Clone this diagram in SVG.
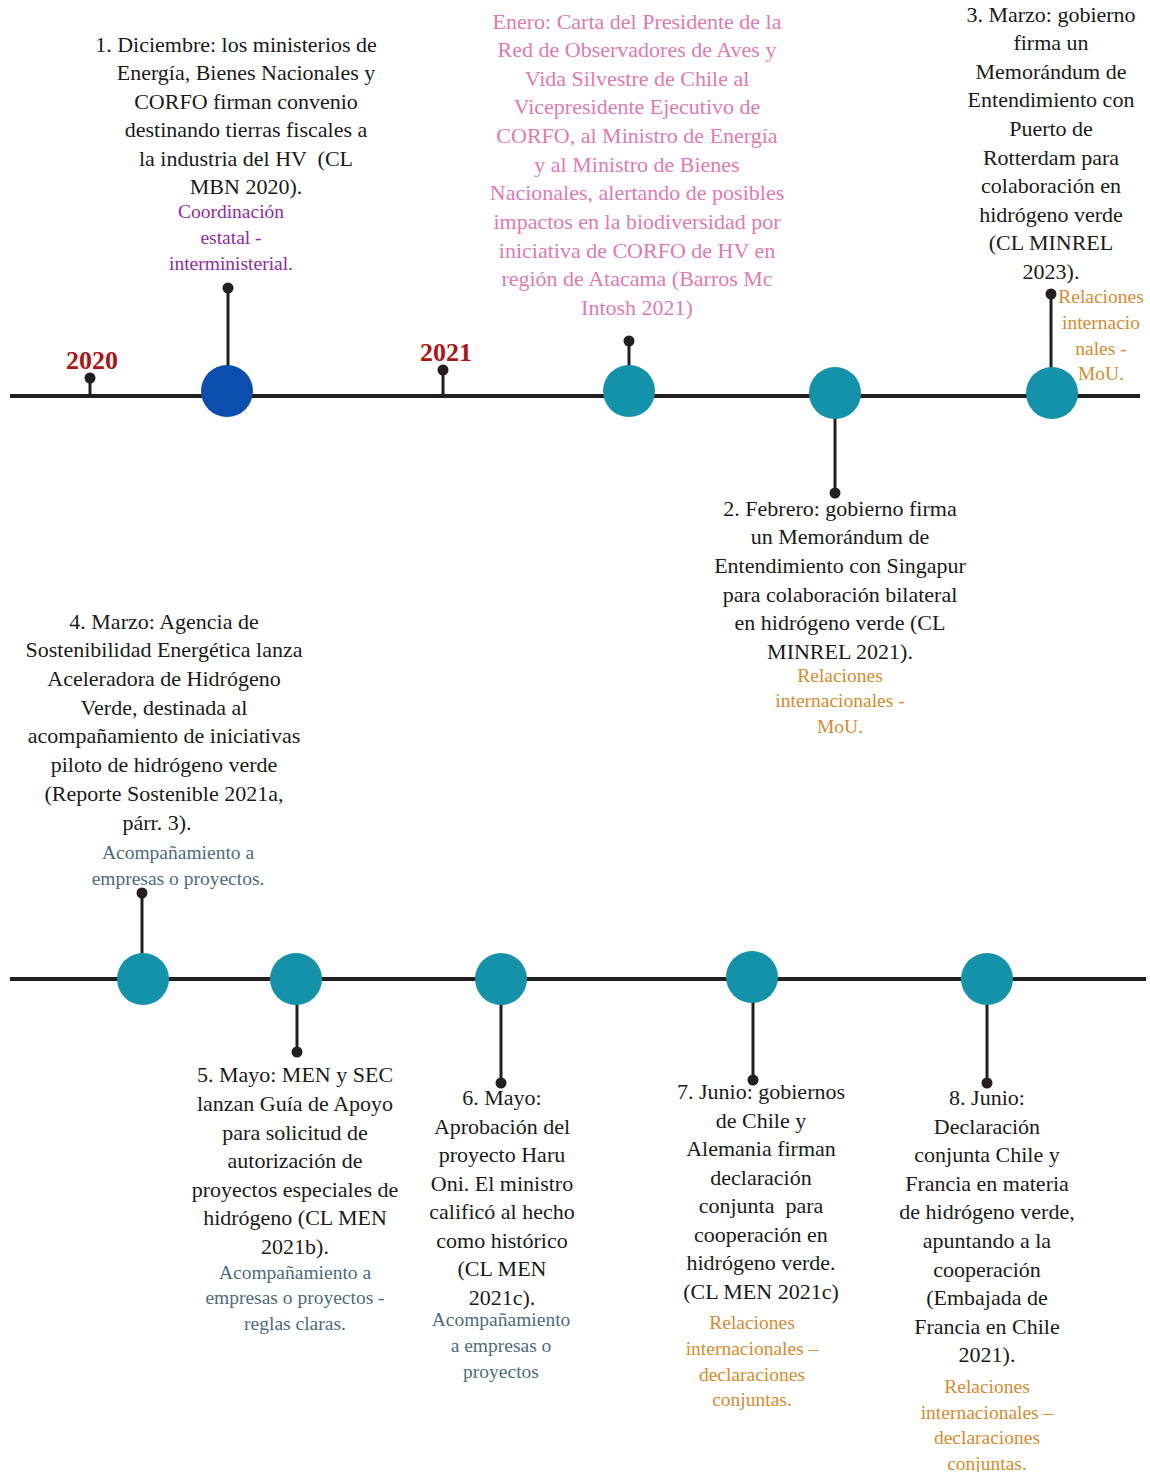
<svg xmlns="http://www.w3.org/2000/svg" width="1150" height="1472" viewBox="0 0 1150 1472">
<style>
text{font-family:"Liberation Serif",Tinos,"Times New Roman",Times,"DejaVu Serif",serif;text-anchor:middle;}
.t{font-size:22px;fill:#1a1a1a;}
.pk{font-size:22px;fill:#e07ab4;}
.pu{font-size:19.5px;fill:#8e2ba6;}
.or{font-size:19.5px;fill:#d68b2f;}
.sl{font-size:19.5px;fill:#4d6b7d;}
.yr{font-size:26px;font-weight:bold;fill:#ad1414;}
.axis{stroke:#231f20;stroke-width:4;fill:none;}
.stem{stroke:#231f20;stroke-width:3;fill:none;}
.dot{fill:#231f20;}
.teal{fill:#1492aa;}
.blue{fill:#0b4eae;}
</style>
<rect width="1150" height="1472" fill="#ffffff"/>

<g id="connectors">
  <line class="axis" x1="10" y1="396" x2="1140" y2="396"/>
  <line class="axis" x1="10" y1="979" x2="1146" y2="979"/>
  <line class="stem" x1="90" y1="378" x2="90" y2="396"/><circle class="dot" cx="90" cy="378" r="5.5"/>
  <line class="stem" x1="443" y1="370" x2="443" y2="396"/><circle class="dot" cx="443" cy="370" r="5.5"/>
  <line class="stem" x1="228" y1="288" x2="228" y2="370"/><circle class="dot" cx="228" cy="288" r="5.5"/>
  <line class="stem" x1="629" y1="341" x2="629" y2="370"/><circle class="dot" cx="629" cy="341" r="5.5"/>
  <line class="stem" x1="835" y1="415" x2="835" y2="493"/><circle class="dot" cx="835" cy="493" r="5.5"/>
  <line class="stem" x1="1051" y1="294" x2="1051" y2="372"/><circle class="dot" cx="1051" cy="294" r="5.5"/>
  <line class="stem" x1="142" y1="893" x2="142" y2="958"/><circle class="dot" cx="142" cy="893" r="5.5"/>
  <line class="stem" x1="297" y1="1000" x2="297" y2="1052"/><circle class="dot" cx="297" cy="1052" r="5.5"/>
  <line class="stem" x1="501" y1="1000" x2="501" y2="1083"/><circle class="dot" cx="501" cy="1083" r="5.5"/>
  <line class="stem" x1="753" y1="998" x2="753" y2="1080"/><circle class="dot" cx="753" cy="1080" r="5.5"/>
  <line class="stem" x1="987" y1="1000" x2="987" y2="1083"/><circle class="dot" cx="987" cy="1083" r="5.5"/>
</g>

<g id="year-2020"><text class="yr" x="92" y="369">2020</text></g>
<g id="year-2021"><text class="yr" x="446" y="361">2021</text></g>

<g id="event-1">
  <circle class="blue" cx="227" cy="391" r="26"/>
  <text class="t" x="236" y="52">1. Diciembre: los ministerios de</text>
  <text class="t" x="246" y="80">Energía, Bienes Nacionales y</text>
  <text class="t" x="246" y="109">CORFO firman convenio</text>
  <text class="t" x="246" y="137">destinando tierras fiscales a</text>
  <text class="t" x="246" y="166" style="white-space:pre">la industria del HV  (CL</text>
  <text class="t" x="246" y="194">MBN 2020).</text>
  <text class="pu" x="231" y="218">Coordinación</text>
  <text class="pu" x="231" y="244">estatal -</text>
  <text class="pu" x="231" y="270">interministerial.</text>
</g>

<g id="event-enero">
  <circle class="teal" cx="629" cy="391" r="26"/>
  <text class="pk" x="637" y="29">Enero: Carta del Presidente de la</text>
  <text class="pk" x="637" y="57">Red de Observadores de Aves y</text>
  <text class="pk" x="637" y="86">Vida Silvestre de Chile al</text>
  <text class="pk" x="637" y="114">Vicepresidente Ejecutivo de</text>
  <text class="pk" x="637" y="143">CORFO, al Ministro de Energía</text>
  <text class="pk" x="637" y="172">y al Ministro de Bienes</text>
  <text class="pk" x="637" y="200">Nacionales, alertando de posibles</text>
  <text class="pk" x="637" y="229">impactos en la biodiversidad por</text>
  <text class="pk" x="637" y="258">iniciativa de CORFO de HV en</text>
  <text class="pk" x="637" y="286">región de Atacama (Barros Mc</text>
  <text class="pk" x="637" y="315">Intosh 2021)</text>
</g>

<g id="event-2">
  <circle class="teal" cx="835" cy="393" r="26"/>
  <text class="t" x="840" y="516">2. Febrero: gobierno firma</text>
  <text class="t" x="840" y="544">un Memorándum de</text>
  <text class="t" x="840" y="573">Entendimiento con Singapur</text>
  <text class="t" x="840" y="602">para colaboración bilateral</text>
  <text class="t" x="840" y="630">en hidrógeno verde (CL</text>
  <text class="t" x="840" y="659">MINREL 2021).</text>
  <text class="or" x="840" y="682">Relaciones</text>
  <text class="or" x="840" y="707">internacionales -</text>
  <text class="or" x="840" y="733">MoU.</text>
</g>

<g id="event-3">
  <circle class="teal" cx="1052" cy="393" r="26"/>
  <text class="t" x="1051" y="22">3. Marzo: gobierno</text>
  <text class="t" x="1051" y="50">firma un</text>
  <text class="t" x="1051" y="79">Memorándum de</text>
  <text class="t" x="1051" y="107">Entendimiento con</text>
  <text class="t" x="1051" y="136">Puerto de</text>
  <text class="t" x="1051" y="165">Rotterdam para</text>
  <text class="t" x="1051" y="193">colaboración en</text>
  <text class="t" x="1051" y="222">hidrógeno verde</text>
  <text class="t" x="1051" y="250">(CL MINREL</text>
  <text class="t" x="1051" y="279">2023).</text>
  <text class="or" x="1101" y="303">Relaciones</text>
  <text class="or" x="1101" y="329">internacio</text>
  <text class="or" x="1101" y="355">nales -</text>
  <text class="or" x="1101" y="380">MoU.</text>
</g>

<g id="event-4">
  <circle class="teal" cx="143" cy="979" r="26"/>
  <text class="t" x="164" y="629">4. Marzo: Agencia de</text>
  <text class="t" x="164" y="657">Sostenibilidad Energética lanza</text>
  <text class="t" x="164" y="686">Aceleradora de Hidrógeno</text>
  <text class="t" x="164" y="715">Verde, destinada al</text>
  <text class="t" x="164" y="743">acompañamiento de iniciativas</text>
  <text class="t" x="164" y="772">piloto de hidrógeno verde</text>
  <text class="t" x="164" y="801">(Reporte Sostenible 2021a,</text>
  <text class="t" x="157" y="830">párr. 3).</text>
  <text class="sl" x="178" y="859">Acompañamiento a</text>
  <text class="sl" x="178" y="885">empresas o proyectos.</text>
</g>

<g id="event-5">
  <circle class="teal" cx="296" cy="979" r="26"/>
  <text class="t" x="295" y="1082">5. Mayo: MEN y SEC</text>
  <text class="t" x="295" y="1111">lanzan Guía de Apoyo</text>
  <text class="t" x="295" y="1140">para solicitud de</text>
  <text class="t" x="295" y="1168">autorización de</text>
  <text class="t" x="295" y="1197">proyectos especiales de</text>
  <text class="t" x="295" y="1225">hidrógeno (CL MEN</text>
  <text class="t" x="295" y="1254">2021b).</text>
  <text class="sl" x="295" y="1279">Acompañamiento a</text>
  <text class="sl" x="295" y="1304">empresas o proyectos -</text>
  <text class="sl" x="295" y="1330">reglas claras.</text>
</g>

<g id="event-6">
  <circle class="teal" cx="501" cy="979" r="26"/>
  <text class="t" x="502" y="1105">6. Mayo:</text>
  <text class="t" x="502" y="1134">Aprobación del</text>
  <text class="t" x="502" y="1162">proyecto Haru</text>
  <text class="t" x="502" y="1191">Oni. El ministro</text>
  <text class="t" x="502" y="1219">calificó al hecho</text>
  <text class="t" x="502" y="1248">como histórico</text>
  <text class="t" x="502" y="1276">(CL MEN</text>
  <text class="t" x="502" y="1305">2021c).</text>
  <text class="sl" x="501" y="1326">Acompañamiento</text>
  <text class="sl" x="501" y="1352">a empresas o</text>
  <text class="sl" x="501" y="1378">proyectos</text>
</g>

<g id="event-7">
  <circle class="teal" cx="752" cy="977" r="26"/>
  <text class="t" x="761" y="1099">7. Junio: gobiernos</text>
  <text class="t" x="761" y="1128">de Chile y</text>
  <text class="t" x="761" y="1156">Alemania firman</text>
  <text class="t" x="761" y="1185">declaración</text>
  <text class="t" x="761" y="1213" style="white-space:pre">conjunta  para</text>
  <text class="t" x="761" y="1242">cooperación en</text>
  <text class="t" x="761" y="1270">hidrógeno verde.</text>
  <text class="t" x="761" y="1299">(CL MEN 2021c)</text>
  <text class="or" x="752" y="1329">Relaciones</text>
  <text class="or" x="752" y="1355">internacionales –</text>
  <text class="or" x="752" y="1381">declaraciones</text>
  <text class="or" x="752" y="1406">conjuntas.</text>
</g>

<g id="event-8">
  <circle class="teal" cx="987" cy="979" r="26"/>
  <text class="t" x="987" y="1105">8. Junio:</text>
  <text class="t" x="987" y="1134">Declaración</text>
  <text class="t" x="987" y="1162">conjunta Chile y</text>
  <text class="t" x="987" y="1191">Francia en materia</text>
  <text class="t" x="987" y="1219">de hidrógeno verde,</text>
  <text class="t" x="987" y="1248">apuntando a la</text>
  <text class="t" x="987" y="1277">cooperación</text>
  <text class="t" x="987" y="1305">(Embajada de</text>
  <text class="t" x="987" y="1334">Francia en Chile</text>
  <text class="t" x="987" y="1362">2021).</text>
  <text class="or" x="987" y="1393">Relaciones</text>
  <text class="or" x="987" y="1419">internacionales –</text>
  <text class="or" x="987" y="1444">declaraciones</text>
  <text class="or" x="987" y="1470">conjuntas.</text>
</g>
</svg>
